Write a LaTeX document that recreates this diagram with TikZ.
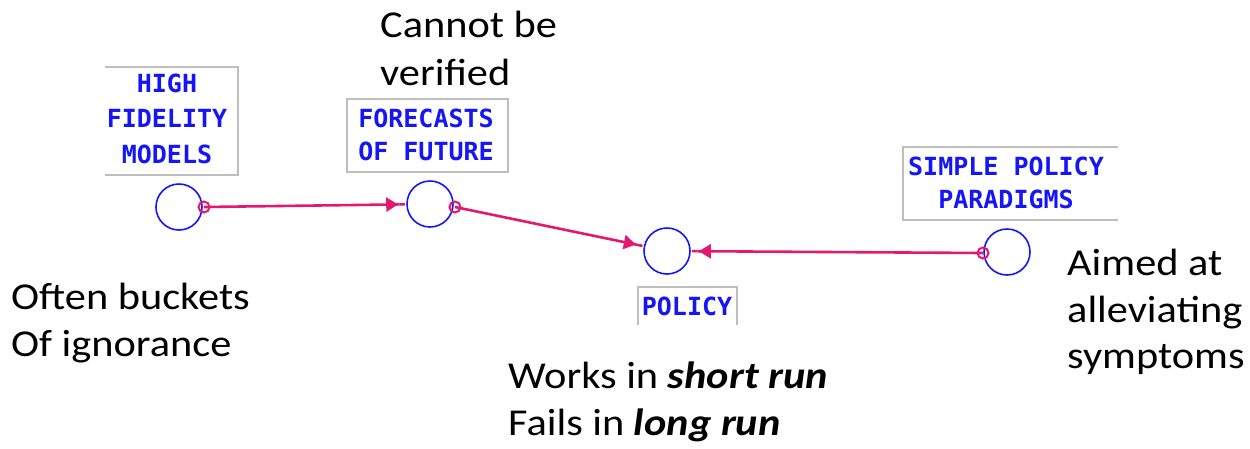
\documentclass[tikz,border=0pt]{standalone}
\usepackage{fontspec}
\usetikzlibrary{arrows.meta}
\newfontfamily\notefont{Carlito}[FakeStretch=1.115]
\newfontfamily\varfont{DejaVu Sans Mono}
\definecolor{linkpink}{RGB}{228,24,112}
\definecolor{varblue}{RGB}{22,22,245}
\definecolor{framegray}{RGB}{190,190,190}

\begin{document}
\begin{tikzpicture}[x=1pt,y=-1pt,
  var/.style={circle,draw=varblue,line width=1.6pt,minimum size=46pt,inner sep=0pt},
  tail/.style={circle,draw=linkpink,line width=2pt,minimum size=11pt,inner sep=0pt},
  link/.style={draw=linkpink,line width=2.6pt,
    -{Triangle[length=12pt,width=14pt,sep=0pt]Rectangle[length=8pt,width=2.6pt]}},
  frame/.style={draw=framegray,line width=1.1pt},
  varlabel/.style={anchor=base,inner sep=0pt,text=varblue,
    font=\varfont\bfseries\fontsize{25}{30}\selectfont},
  note/.style={anchor=base west,inner sep=0pt,
    font=\notefont\fontsize{38}{47}\selectfont}]

\useasboundingbox (0,0) rectangle (1250,448);

% label frames (partly open)
\draw[frame] (105,67) -- (238,67) -- (238,175) -- (105,175);
\draw[frame] (347,99) rectangle (508,172);
\draw[frame] (638,325) -- (638,287) -- (737,287) -- (737,325);
\draw[frame] (1118,147) -- (903,147) -- (903,220) -- (1118,220);

% variable labels
\node[varlabel] (hfmL1) at (167,92) {HIGH};
\node[varlabel] (hfmL2) at (167,127) {FIDELITY};
\node[varlabel] (hfmL3) at (167,163) {MODELS};
\node[varlabel] (fofL1) at (426,127) {FORECASTS};
\node[varlabel] (fofL2) at (426,160) {OF FUTURE};
\node[varlabel] (polL) at (687,315) {POLICY};
\node[varlabel] (sppL1) at (1006,175) {SIMPLE POLICY};
\node[varlabel] (sppL2) at (1006,208) {PARADIGMS};

% variables
\node[var] (hfm) at (179,207) {};
\node[var] (fof) at (430,204) {};
\node[var] (pol) at (667,251) {};
\node[var] (spp) at (1007,252) {};

% link origins
\coordinate (hfmO) at (204,207);
\coordinate (fofO) at (455,207);
\coordinate (sppO) at (983,253);

% causal links
\draw[link] (hfmO) -- (fof);
\draw[link] (fofO) -- (pol);
\draw[link] (sppO) -- (pol);

% origin markers
\node[tail] (hfmT) at (hfmO) {};
\node[tail] (fofT) at (fofO) {};
\node[tail] (sppT) at (sppO) {};

% annotations
\node[note] (n1a) at (380,37) {Cannot be};
\node[note] (n1b) at (380,85) {verified};
\node[note] (n2a) at (11,309) {Often buckets};
\node[note] (n2b) at (11,356) {Of ignorance};
\node[note] (n3a) at (508,388) {Works in \textbf{\textit{short run}}};
\node[note] (n3b) at (508,435) {Fails in \textbf{\textit{long run}}};
\node[note] (n4a) at (1067,275) {Aimed at};
\node[note] (n4b) at (1067,322) {alleviating};
\node[note] (n4c) at (1067,368) {symptoms};
\end{tikzpicture}
\end{document}
